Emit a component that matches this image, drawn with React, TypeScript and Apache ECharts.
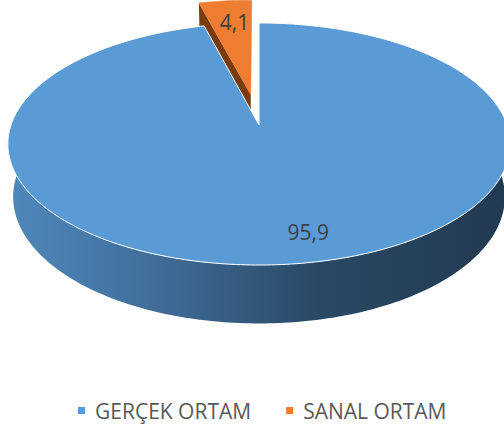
import React, { useEffect, useRef } from 'react';
import * as echarts from 'echarts';

// ---- data ----
const CATEGORIES = ['GERÇEK ORTAM', 'SANAL ORTAM'];
const VALUES = [95.9, 4.1];
const VALUE_LABELS = ['95,9', '4,1'];

// ---- style / layout ----
const TOP_COLORS = ['#5B9BD5', '#ED7D31'];
const FACE_COLORS = ['#2E5478', '#7A3B0E'];
const EXPLODE = [0, 0.27];
const LABEL_LAYOUT = [
  { r: 0.81, dA: -5 },
  { r: 0.75, dA: 1.3 },
];
const VIEW = { cx: 259, cy: 125, scale: 248, sinA: 0.476, cosA: 0.879, dist: 5.6, depth: 0.245 };
const FONT = '"Open Sans", "Noto Sans", sans-serif';

function project(x: number, z: number, y: number): number[] {
  const yc = y * VIEW.cosA + z * VIEW.sinA;
  const zc = z * VIEW.cosA - y * VIEW.sinA;
  const k = 1 / (1 + zc / VIEW.dist);
  return [VIEW.cx + VIEW.scale * x * k, VIEW.cy - VIEW.scale * yc * k];
}
const rad = (d: number) => (d * Math.PI) / 180;
function rimPoint(theta: number, off: { x: number; z: number }, y: number, r = 1) {
  return project(off.x + r * Math.sin(rad(theta)), off.z + r * Math.cos(rad(theta)), y);
}
function arc(a: number, b: number, off: { x: number; z: number }, y: number) {
  const pts: number[][] = [];
  const n = Math.max(2, Math.ceil(Math.abs(b - a) / 1));
  for (let i = 0; i <= n; i++) pts.push(rimPoint(a + ((b - a) * i) / n, off, y));
  return pts;
}

function makeRender(idx: number) {
  return (params: any, api: any) => {
    const total = VALUES.reduce((s, v) => s + v, 0);
    const before = VALUES.slice(0, idx).reduce((s, v) => s + v, 0);
    const start = (before / total) * 360;
    const end = start + (api.value(0) / total) * 360;
    const mid = (start + end) / 2;
    const e = EXPLODE[idx];
    const off = { x: e * Math.sin(rad(mid)), z: e * Math.cos(rad(mid)) };
    const apexTop = project(off.x, off.z, 0);
    const apexBot = project(off.x, off.z, -VIEW.depth);
    const children: any[] = [];

    const faceAt = (th: number) => [apexTop, rimPoint(th, off, 0), rimPoint(th, off, -VIEW.depth), apexBot];
    if (Math.sin(rad(start)) < -1e-6) {
      children.push({ type: 'polygon', z2: 1, shape: { points: faceAt(start) }, style: { fill: FACE_COLORS[idx] } });
    }
    if (Math.sin(rad(end)) > 1e-6) {
      children.push({ type: 'polygon', z2: 1, shape: { points: faceAt(end) }, style: { fill: FACE_COLORS[idx] } });
    }

    const a = Math.max(start, 80);
    const b = Math.min(end, 280);
    if (a < b) {
      const pts = arc(a, b, off, 0).concat(arc(b, a, off, -VIEW.depth));
      children.push({
        type: 'polygon',
        z2: 2,
        shape: { points: pts },
        style: {
          fill: {
            type: 'linear', x: 0, y: 0, x2: 1, y2: 0,
            colorStops: [
              { offset: 0, color: '#5088BC' },
              { offset: 0.3, color: '#3F6D98' },
              { offset: 0.62, color: '#2A4865' },
              { offset: 1, color: '#223A50' },
            ],
          },
        },
      });
    }

    const topPts = [apexTop].concat(arc(start, end, off, 0));
    children.push({
      type: 'polygon',
      z2: 3,
      shape: { points: topPts },
      style: { fill: TOP_COLORS[idx], stroke: idx === 0 ? '#ffffff' : TOP_COLORS[idx], lineWidth: idx === 0 ? 1 : 0.5 },
    });

    const L = LABEL_LAYOUT[idx];
    const lth = mid + L.dA;
    const lp = project(off.x + L.r * Math.sin(rad(lth)), off.z + L.r * Math.cos(rad(lth)), 0);
    children.push({
      type: 'text',
      z2: 4,
      x: lp[0],
      y: lp[1],
      style: {
        text: VALUE_LABELS[idx],
        fill: '#404040',
        fontSize: 21,
        fontFamily: FONT,
        align: 'center',
        verticalAlign: 'middle',
      },
    });
    return { type: 'group', children };
  };
}

export default function App() {
  const ref = useRef<HTMLDivElement>(null);
  useEffect(() => {
    document.body.style.margin = '0';
    const chart = echarts.init(ref.current!, null, { renderer: 'svg' });
    chart.setOption({
      animation: false,
      backgroundColor: '#ffffff',
      legend: {
        data: CATEGORIES,
        left: 73,
        top: 395,
        icon: 'rect',
        itemWidth: 7,
        itemHeight: 7,
        itemGap: 35,
        textStyle: { color: '#595959', fontSize: 21, fontFamily: FONT, padding: [0, 0, 0, 5] },
      },
      series: CATEGORIES.map((name, i) => ({
        type: 'custom',
        name,
        coordinateSystem: 'none',
        z: i === 0 ? 3 : 2,
        itemStyle: { color: TOP_COLORS[i] },
        renderItem: makeRender(i),
        data: [[VALUES[i]]],
      })),
    });
    return () => chart.dispose();
  }, []);
  return <div ref={ref} style={{ width: 504, height: 427 }} />;
}
